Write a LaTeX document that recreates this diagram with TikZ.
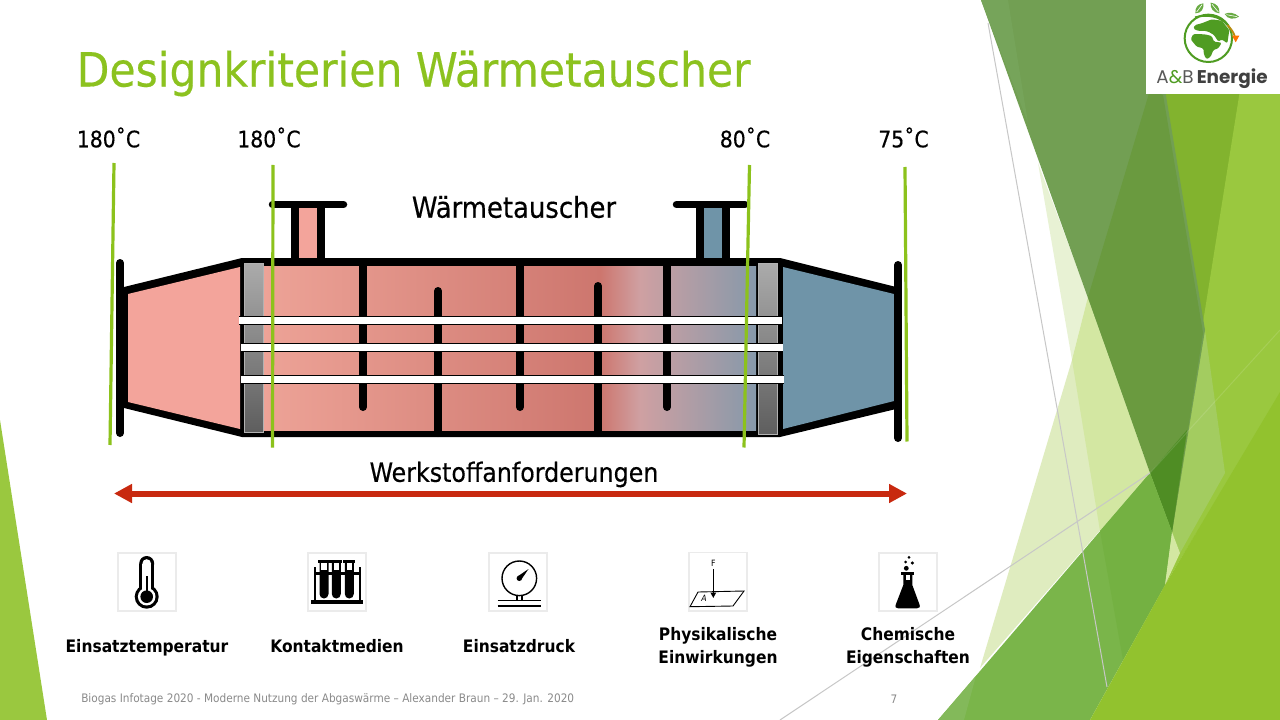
\documentclass[tikz,border=0pt]{standalone}
\usepackage{fontspec}
\setmainfont{DejaVu Sans Condensed}[BoldFont={DejaVu Sans Condensed Bold},ItalicFont={DejaVu Sans Condensed Oblique}]
\newfontfamily\logofont{Poppins}
\newfontfamily\heavyfont[FakeBold=0.35]{DejaVu Sans Condensed}
\usetikzlibrary{arrows.meta}
\definecolor{titlegreen}{HTML}{8CC21F}
\definecolor{linegreen}{HTML}{8CC21C}
\definecolor{hot}{HTML}{F3A49B}
\definecolor{cold}{HTML}{6F94A8}
\definecolor{arrowred}{HTML}{C8290F}
\definecolor{footgrey}{HTML}{8A8A8A}
\definecolor{logogreen}{HTML}{4F9C22}
\definecolor{shA}{HTML}{EDA397}
\definecolor{shB}{HTML}{CD766E}
\definecolor{shC}{HTML}{CFA0A2}
\definecolor{shD}{HTML}{8699AA}
\definecolor{sheettop}{HTML}{ABABAB}
\definecolor{sheetbot}{HTML}{5E5E5E}
\definecolor{fDarkA}{HTML}{729F53}
\definecolor{fDarkB}{HTML}{6A9A3F}
\definecolor{fDarkC}{HTML}{76A45A}
\definecolor{fMid}{HTML}{82B32E}
\definecolor{fLight}{HTML}{9AC83F}
\definecolor{fBright}{HTML}{92C22E}
\definecolor{fGrass}{HTML}{7AB54A}
\definecolor{fGrassB}{HTML}{74B142}
\definecolor{fGrassC}{HTML}{83B95A}
\definecolor{fDeep}{HTML}{4F8D24}
\definecolor{fPaleA}{HTML}{E8F2D4}
\definecolor{fPaleB}{HTML}{DFECBF}
\definecolor{fPaleC}{HTML}{D3E7A2}
\definecolor{fBand}{HTML}{A3CC60}
\pgfdeclarehorizontalshading{shellshade}{100bp}{
 color(0bp)=(shA); color(25bp)=(shA); color(59.2bp)=(shB); color(63.2bp)=(shC); color(75bp)=(shD); color(100bp)=(shD)}
\tikzset{
 px/.style={line width=#1*0.75pt},
 temp/.style={font=\heavyfont\fontsize{17}{20}\selectfont,text=black,inner sep=0pt},
 crit/.style={font=\fontsize{12.9}{17.25}\selectfont\bfseries,text=black,inner sep=0pt,align=center},
 bar/.style={draw=black,px=8,line cap=round},
 stubline/.style={draw=black,px=8},
 gline/.style={draw=linegreen,px=3.2},
 iconbox/.style={draw=black!8,px=1.6,fill=white},
 hairline/.style={draw=black!22,px=1},
 sheet/.style={top color=sheettop,bottom color=sheetbot,draw=black!30,px=.6},
 leaf/.style={fill=logogreen!85!white},
 vein/.style={draw=white,px=.6},
}
\newcommand{\tubeat}[3]{%
 \fill[white] (#1,#3-4) rectangle (#2,#3+4);
 \draw[black,px=1] (#1,#3-4) -- (#2,#3-4) (#1,#3+4) -- (#2,#3+4);}
\begin{document}
\begin{tikzpicture}[x=0.75pt,y=-0.75pt]
\useasboundingbox (0,0) rectangle (1280,720);
\fill[white] (0,0) rectangle (1280,720);
% --- background facets
\fill[fLight] (0,420) -- (47,720) -- (0,720) -- cycle;
\fill[fMid] (1150,80) -- (1280,80) -- (1280,400) -- (1190,420) -- cycle;
\fill[fLight] (1240,90) -- (1280,90) -- (1280,395) -- (1165,585) -- (1172,532) -- (1197,360) -- cycle;
\fill[fBand] (1205,330) -- (1225,473) -- (1180,553) -- (1172,532) -- cycle;
\fill[fPaleB] (1072,360) -- (980,668) -- (1150,473) -- (1088,297) -- cycle;
\fill[fPaleA] (1038,163) -- (1088,297) -- (1072,360) -- cycle;
\fill[fPaleC] (1088,297) -- (1150,473) -- (1100,531) -- (1072,360) -- cycle;
\fill[fDarkA] (981,0) -- (1172,532) -- (1205,330) -- (1150,0) -- cycle;
\fill[fDarkC] (981,0) -- (1008,0) -- (1028,123) -- cycle;
\fill[fDarkB] (1150,90) -- (1088,297) -- (1150,473) -- (1172,532) -- (1203,333) -- (1163,95) -- cycle;
\fill[fDeep] (1150,473) -- (1187,430) -- (1172,532) -- cycle;
\fill[fGrass] (938,720) -- (1150,473) -- (1172,532) -- (1165,585) -- (1090,720) -- cycle;
\fill[fGrassB] (1100,531) -- (1150,473) -- (1172,532) -- (1165,585) -- (1123,660) -- cycle;
\fill[fGrassC] (938,720) -- (976,676) -- (964,720) -- cycle;
\fill[fPaleC] (1172,532) -- (1180,553) -- (1165,585) -- cycle;
\fill[fBright] (1090,720) -- (1165,585) -- (1280,392) -- (1280,720) -- cycle;
\draw[hairline] (988,23) -- (1107,687);
\draw[hairline] (780,720) -- (1150,473);
\draw[draw=white,px=1,opacity=.12] (1150,473) -- (1280,330);
% --- title
\node[anchor=west,inner sep=0pt,text=titlegreen,font=\heavyfont\fontsize{35.4}{40}\selectfont] (title) at (76.5,73.5) {Designkriterien Wärmetauscher};
% --- logo
\fill[white] (1146,0) rectangle (1280,94);
\begin{scope}[shift={(1140,0)},x=.25pt,y=-.25pt]
 \draw[logogreen,px=2] (205,115) circle (71);
 \fill[logogreen,rounded corners=1pt] (152,118) -- (160,102) -- (195,103) -- (215,108) -- (222,125) -- (245,128) -- (235,145) -- (220,150) -- (212,170) -- (200,178) -- (192,165) -- (190,145) -- (170,140) -- cycle;
 \fill[logogreen,rounded corners=1pt] (165,75) -- (185,70) -- (215,58) -- (245,62) -- (268,90) -- (262,130) -- (245,118) -- (235,125) -- (222,105) -- (205,95) -- (190,92) -- (175,93) -- (160,86) -- cycle;
 \fill[leaf] (166,40) .. controls (165,20) and (175,12) .. (190,10) .. controls (192,25) and (185,40) .. (166,40) -- cycle;
 \draw[vein] (170,36) -- (186,14);
 \fill[leaf] (212,8) .. controls (230,10) and (240,22) .. (238,40) .. controls (220,38) and (210,25) .. (212,8) -- cycle;
 \draw[vein] (216,13) -- (235,36);
 \fill[leaf] (254,42) .. controls (265,35) and (285,38) .. (297,50) .. controls (282,60) and (262,58) .. (254,42) -- cycle;
 \draw[vein] (259,44) -- (291,50);
 \draw[logogreen,px=1.8] (165,52) .. controls (200,42) and (240,48) .. (262,75);
 \draw[orange!60!logogreen,px=1.8] (262,75) .. controls (272,85) and (280,95) .. (284,108);
 \fill[orange!90!red] (276,107) -- (298,107) -- (287,127) -- cycle;
\end{scope}
\node[anchor=center,inner sep=0pt,font=\logofont\fontsize{13.8}{15}\selectfont] (logotext) at (1212,79)
 {\textcolor{black!65}{A}\textcolor{logogreen}{\&}\textcolor{black!65}{B}\,\textbf{\textcolor{black!75}{Energie}}};
% --- labels
\node[temp] (t1) at (108.5,137.5) {180˚C};
\node[temp] (t2) at (269,137.5) {180˚C};
\node[temp] (t3) at (745,137.5) {80˚C};
\node[temp] (t4) at (903.5,137.5) {75˚C};
\node[inner sep=0pt,font=\heavyfont\fontsize{21.6}{24}\selectfont] (wt) at (514,207) {Wärmetauscher};
\node[inner sep=0pt,font=\heavyfont\fontsize{19.8}{24}\selectfont] (wf) at (514,474.5) {Werkstoffanforderungen};
% --- nozzles
\fill[hot] (299,205) rectangle (317,260);
\fill[cold] (704,205) rectangle (722,260);
\draw[stubline] (295,204) -- (295,260); \draw[stubline] (321,204) -- (321,260);
\draw[stubline] (700,204) -- (700,260); \draw[stubline] (726,204) -- (726,260);
\draw[bar,px=7.5] (272.5,204.5) -- (343.5,204.5);
\draw[bar,px=7.5] (676.5,204.5) -- (745,204.5);
% --- body
\fill[black] (124,287) -- (242,258) -- (780,258) -- (896,287) -- (896,409) -- (780,437) -- (242,437) -- (124,408) -- cycle;
\fill[hot] (128,294) -- (240,267) -- (240,429) -- (128,402) -- cycle;
\fill[cold] (783,267) -- (894,294) -- (894,401) -- (783,429) -- cycle;
\shade[shading=shellshade] (263,266) rectangle (756,430);
\draw[sheet] (244,263) rectangle (263,432);
\draw[sheet] (758,263) rectangle (777,434);
\draw[bar] (120,263) -- (120,433);
\draw[bar] (898,265) -- (898,438);
% baffles
\draw[bar] (363,262) -- (363,407);
\draw[bar] (520,262) -- (520,407);
\draw[bar] (667,262) -- (667,407);
\draw[bar] (438,291) -- (438,433);
\draw[bar] (598,286) -- (598,433);
% tubes
\tubeat{239}{782}{320}
\tubeat{241}{783}{347}
\tubeat{241}{784}{379}
% temperature probes
\draw[gline] (114,163) -- (110,445);
\draw[gline] (273,165) -- (272.5,447.5);
\draw[gline] (749.5,165) -- (744,447.5);
\draw[gline] (905,167) -- (907,441.5);
% --- red arrow
\coordinate (al) at (114,493.5);
\coordinate (ar) at (907,493.5);
\draw[arrowred,px=6,{Triangle[length=18*0.75pt,width=18*0.75pt]}-{Triangle[length=18*0.75pt,width=18*0.75pt]}] (al) -- (ar);
% --- icon 1: thermometer
\draw[iconbox] (118,553) rectangle (176,611);
\fill[black] (146.7,563.5) circle (7.5);
\fill[black] (139.2,563.5) rectangle (154.2,590);
\fill[black] (146.7,596.7) circle (12);
\fill[white] (146.7,563.5) circle (4.3);
\fill[white] (142.4,563.5) rectangle (151,592);
\fill[white] (146.7,596.7) circle (8.8);
\fill[black] (146.7,596.7) circle (6.3);
\fill[black] (145.7,576) rectangle (147.7,592);
% --- icon 2: test tubes
\draw[iconbox] (308,553) rectangle (366,611);
\fill[black] (311,600) rectangle (363,604);
\fill[black] (314,567) rectangle (316,600);
\fill[black] (358.5,567) rectangle (360.5,600);
\fill[black] (314,572) rectangle (360,574.5);
\foreach \c in {324,336.3,349.3}{
 \fill[black] (\c-6,560) rectangle (\c+6,562.5);
 \fill[black] (\c-4.5,562) -- (\c+4.5,562) -- (\c+4.5,594) arc[start angle=0,end angle=180,radius=4.5] -- cycle;
 \fill[white] (\c-2.7,562.5) rectangle (\c+2.7,569.5);
}
% --- icon 3: gauge
\draw[iconbox] (489,553) rectangle (547,611);
\draw[black,px=1.4] (519.3,578.3) circle (17.3);
\draw[black,px=1.4] (516.8,595.2) -- (516.8,600.7);
\draw[black,px=1.4] (521.8,595.2) -- (521.8,600.7);
\draw[black,px=1.4] (497.7,600.7) -- (540.7,600.7);
\draw[black,px=2] (497.7,606.2) -- (540.7,606.2);
\fill[black] (519.3,578.3) circle (2.7);
\fill[black] (517.5,576.5) -- (528.5,569) -- (521,580) -- cycle;
% --- icon 4: force
\draw[iconbox] (689,552.5) rectangle (747,611);
\node[inner sep=0pt,font=\fontsize{6.5}{7}\selectfont] (fF) at (713.3,563.5) {F};
\coordinate (ftop) at (713.3,569.3);
\coordinate (fbot) at (713.3,598);
\draw[black,px=.9] (698,592) -- (744,591) -- (733,606) -- (690,606.7) -- cycle;
\draw[black,px=1.5,-{Triangle[length=4pt,width=4pt]}] (ftop) -- (fbot);
\node[inner sep=0pt,font=\fontsize{6.5}{7}\selectfont\itshape] (fA) at (704,598.5) {A};
% --- icon 5: flask
\draw[iconbox] (879,553) rectangle (937,611);
\fill[black] (906.3,568.3) circle (2.4);
\fill[black] (905.5,562) circle (1.5);
\fill[black] (912.3,563) circle (1.7);
\fill[black] (909,557.3) circle (1.5);
\fill[black] (901,572.3) rectangle (914.3,575);
\fill[black] (903.3,575) -- (912.3,575) -- (912.3,585) -- (919.3,604) .. controls (920.5,607) and (919.5,608.3) .. (917,608.3) -- (898,608.3) .. controls (895.5,608.3) and (894.8,607) .. (896,604) -- (903.3,585) -- cycle;
\fill[white] (905.5,575) rectangle (910,580);
% --- criteria labels
\node[crit,anchor=base] (c1) at (147,652) {Einsatztemperatur};
\node[crit,anchor=base] (c2) at (337,652) {Kontaktmedien};
\node[crit,anchor=base] (c3) at (519,652) {Einsatzdruck};
\node[crit] (c4) at (718,647) {Physikalische\\Einwirkungen};
\node[crit] (c5) at (908,647) {Chemische\\Eigenschaften};
% --- footer
\node[anchor=west,inner sep=0pt,text=footgrey,font=\fontsize{8.78}{10}\selectfont] (foot) at (81,699.5) {Biogas Infotage 2020 - Moderne Nutzung der Abgaswärme – Alexander Braun – 29. Jan. 2020};
\node[inner sep=0pt,text=footgrey,font=\fontsize{8.78}{10}\selectfont] (pg) at (894,699.5) {7};
\end{tikzpicture}
\end{document}
